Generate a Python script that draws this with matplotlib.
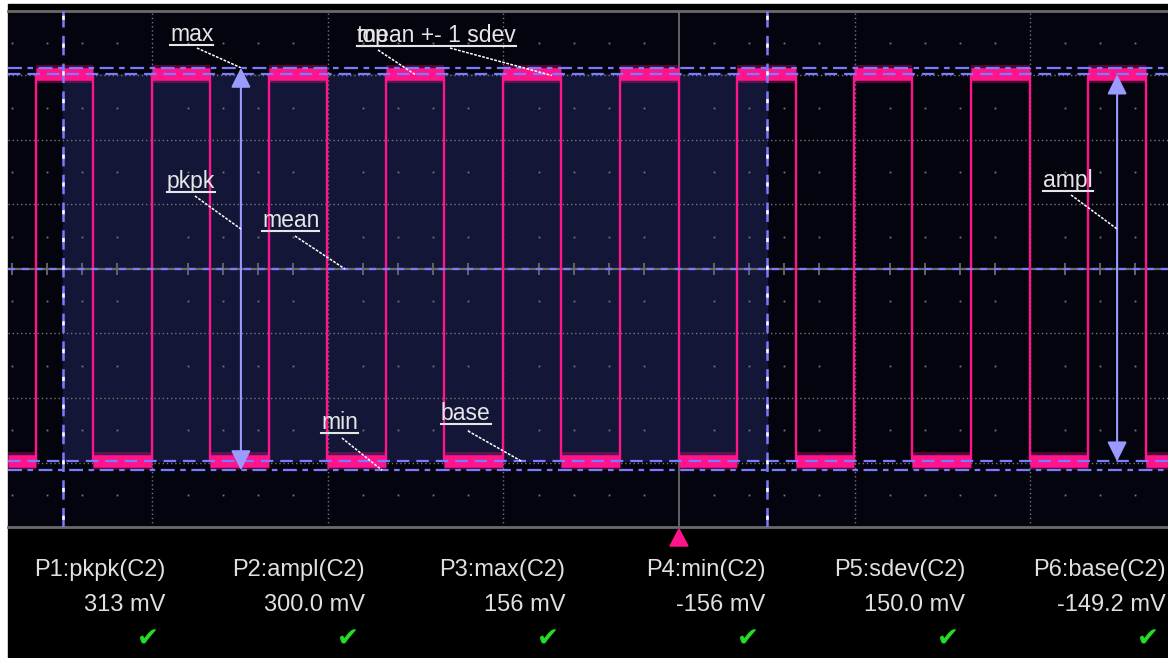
import numpy as np
import matplotlib.pyplot as plt
from matplotlib.patches import Rectangle, Polygon

plt.rcParams['lines.scale_dashes'] = False
plt.rcParams['font.family'] = ['Liberation Sans', 'DejaVu Sans']

# time in divisions (0 = trigger), voltage in mV (50 mV/div)
t_min, t_max = -3.823, 2.786
v_min, v_max = -200, 200

# square wave edges
rise_t = [-3.664, -3.003, -2.336, -1.670, -1.003, -0.336, 0.330, 0.997, 1.664, 2.330]
fall_t = [-3.339, -2.672, -2.006, -1.339, -0.672, 0.0, 0.667, 1.328, 2.000, 2.661]
top_mv = 150.8
base_mv = -149.2

# measurement results
max_mv = 156
min_mv = -156
mean_mv = 0
sdev_mv = 150.0
cursor_t = [-3.510, 0.501]
pkpk_t = -2.496
ampl_t = 2.496

meas_names = ['P1:pkpk(C2)', 'P2:ampl(C2)', 'P3:max(C2)', 'P4:min(C2)', 'P5:sdev(C2)', 'P6:base(C2)']
meas_values = ['313 mV', '300.0 mV', '156 mV', '-156 mV', '150.0 mV', '-149.2 mV']

pink = '#ff148c'
blue = '#7b7bff'
grey = '#767676'

W, H = 1168, 658
fig = plt.figure(figsize=(W / 100, H / 100), dpi=100, facecolor='white')

# background / bottom panel in pixel coords
bg = fig.add_axes([0, 0, 1, 1])
bg.set_xlim(0, W)
bg.set_ylim(H, 0)
bg.axis('off')
bg.add_patch(Rectangle((8, 4), W - 8, H - 4, color='black'))

ax = fig.add_axes([8 / W, (H - 527) / H, (W - 8) / W, 516 / H])
ax.set_facecolor('#04040e')
ax.set_xlim(t_min, t_max)
ax.set_ylim(v_min, v_max)
ax.set_xticks([])
ax.set_yticks([])
for s in ['left', 'right']:
    ax.spines[s].set_visible(False)
for s in ['top', 'bottom']:
    ax.spines[s].set_color('#6a6a6a')
    ax.spines[s].set_linewidth(2)

# shaded measurement gate
ax.add_patch(Rectangle((cursor_t[0], base_mv), cursor_t[1] - cursor_t[0], top_mv - base_mv,
                       color='#131637', zorder=0.5))

# graticule
for k in [-3, -2, -1, 1, 2]:
    ax.axvline(k, color=grey, lw=1, ls=(0, (1, 2)), zorder=1)
for k in [-150, -100, -50, 50, 100, 150]:
    ax.axhline(k, color=grey, lw=1, ls=(0, (1, 2)), zorder=1)
ax.axvline(0, color='#6a6a6a', lw=1.3, zorder=1)
ax.axhline(0, color='#6a6a6a', lw=1.6, zorder=1)
minor = [m for m in np.round(np.arange(-3.8, 2.8, 0.2), 1) if abs(m - round(m)) > 0.01]
for row in [-175, -125, -75, -25, 25, 75, 125, 175]:
    ax.plot(minor, [row] * len(minor), ls='none', marker='s', ms=1.3, color=grey, mew=0, zorder=1)
ax.plot(minor, [0] * len(minor), ls='none', marker='|', ms=9, mew=1.3, color='#6a6a6a', zorder=1)

# waveform
edges = sorted([(t, top_mv) for t in rise_t] + [(t, base_mv) for t in fall_t])
xs, ys = [t_min], [base_mv]
level = base_mv
for t, new in edges:
    xs += [t, t]
    ys += [level, new]
    level = new
xs.append(t_max)
ys.append(level)
ax.plot(xs, ys, color=pink, lw=1.7, zorder=3)
for i in range(len(xs) - 1):
    if ys[i] == ys[i + 1] and xs[i + 1] > xs[i]:
        ax.plot([xs[i], xs[i + 1]], [ys[i], ys[i]], color=pink, lw=13, alpha=0.3,
                solid_capstyle='butt', zorder=3)
        ax.plot([xs[i], xs[i + 1]], [ys[i], ys[i]], color=pink, lw=9,
                solid_capstyle='butt', zorder=3)

# measurement level lines
for v in [max_mv, min_mv]:
    ax.axhline(v, color=blue, lw=1.6, ls=(0, (10, 4, 4, 4)), zorder=4)
for v in [top_mv, base_mv]:
    ax.axhline(v, color=blue, lw=1.6, ls=(0, (9, 5)), zorder=4)
ax.axhline(mean_mv, color=blue, lw=1.6, ls=(0, (5, 5)), zorder=4)

# gate cursors
for c in cursor_t:
    ax.axvline(c, color=blue, lw=1.8, ls=(0, (14, 6)), zorder=5)
    ax.axvline(c, color='white', lw=1.8, ls=(14.5, (3, 17)), zorder=5)

# pkpk and ampl arrows
head = '<|-|>,head_length=0.6,head_width=0.3'
ax.annotate('', xy=(pkpk_t, max_mv), xytext=(pkpk_t, min_mv),
            arrowprops=dict(arrowstyle=head, color='#9a9aff', lw=1.5, mutation_scale=20,
                            shrinkA=0, shrinkB=0), zorder=5)
ax.annotate('', xy=(ampl_t, top_mv), xytext=(ampl_t, base_mv),
            arrowprops=dict(arrowstyle=head, color='#9a9aff', lw=1.5, mutation_scale=20,
                            shrinkA=0, shrinkB=0), zorder=5)


def px(x, y):
    return ((x - 679) / 175.5, (269 - y) / 1.29)


# labels: text, left x px, baseline px, leader start px, leader target (data)
labels = [
    ('max', 170, 41, (197, 48), (pkpk_t, max_mv)),
    ('top', 357, 42, (378, 50), (-1.504, top_mv)),
    ('mean +- 1 sdev', 357, 42, (450, 48), (-0.724, mean_mv + sdev_mv)),
    ('pkpk', 167, 188, (195, 196), (pkpk_t, 31)),
    ('mean', 262, 227, (295, 236), (-1.903, mean_mv)),
    ('ampl', 1043, 187, (1071, 195), (ampl_t, 31)),
    ('min', 321, 429, (342, 438), (-1.692, min_mv)),
    ('base', 441, 420, (468, 431), (-0.895, base_mv)),
]
r = fig.canvas.get_renderer()
inv = ax.transData.inverted()
for text, lx, ly, start, target in labels:
    tx, ty = px(lx, ly)
    t = ax.text(tx, ty, text, ha='left', va='baseline', fontsize=16.5, color='#e6e6e6',
                zorder=6, clip_on=False)
    bb = t.get_window_extent(r)
    ux0 = inv.transform((bb.x0, 0))[0]
    ux1 = inv.transform((bb.x1, 0))[0]
    uy = px(0, ly + 4)[1]
    ax.plot([ux0, ux1], [uy, uy], color='#e6e6e6', lw=1.5, zorder=6)
    sx, sy = px(*start)
    ax.plot([sx, target[0]], [sy, target[1]], color='white', lw=1.1, ls=(0, (2, 1)), zorder=6)

# trigger marker
bg.add_patch(Polygon([(679, 529), (670, 546), (688, 546)], color=pink))

# measurement table
for i, (name, val) in enumerate(zip(meas_names, meas_values)):
    xr = 165 + 200.1 * i
    bg.text(xr, 570, name, ha='right', va='center', fontsize=17, color='#e0e0e0')
    bg.text(xr, 605, val, ha='right', va='center', fontsize=17, color='#e0e0e0')
    bg.text(xr - 17, 640, '\u2714', ha='center', va='center', fontsize=19, color='#22dd22',
            family='DejaVu Sans')

fig.savefig('out.png', dpi=100, facecolor=fig.get_facecolor())
